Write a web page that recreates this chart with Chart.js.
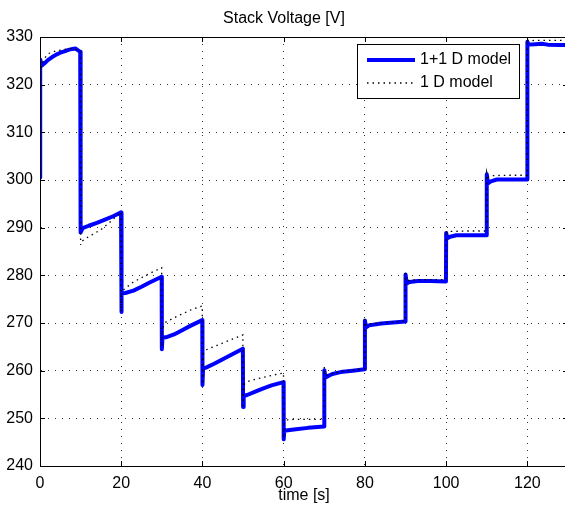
<!DOCTYPE html>
<html>
<head>
<meta charset="utf-8">
<script src="https://cdn.jsdelivr.net/npm/chart.js@4/dist/chart.umd.min.js"></script>
<style>
  html, body { margin: 0; padding: 0; background: #fff; overflow: hidden; }
  #wrap { width: 570px; height: 510px; }
</style>
</head>
<body>
<div id="wrap"><canvas id="voltChart" width="570" height="510"></canvas></div>
<script>
// ---- data ----
const xTicks = [0, 20, 40, 60, 80, 100, 120];
const yTicks = [240, 250, 260, 270, 280, 290, 300, 310, 320, 330];

// 1+1 D model (blue)
const tFull = [0, 0.05, 0.4, 1, 2, 3, 4, 5, 6, 7, 8, 8.7, 9.9,
  10, 10.5, 12, 14, 16, 18, 19.95,
  20, 20.15, 21, 23, 25, 27, 29.95,
  30, 30.15, 31, 33, 35, 37, 39.95,
  40, 40.15, 41, 43, 45, 47, 49.95,
  50, 50.15, 51, 53, 55, 57, 59.95,
  60, 60.15, 61, 63, 66, 69.95,
  70, 70.3, 71, 72, 74, 77, 79.95,
  80, 80.3, 81, 84, 87, 89.95,
  90, 90.3, 91, 93, 96, 99.95,
  100, 100.3, 101, 102.5, 106, 109.95,
  110, 110.3, 111, 112.5, 116, 119.95,
  120, 120.3, 122, 123.5, 125, 128, 130];
const vFull = [300.5, 325.3, 324.0, 324.4, 325.2, 325.8, 326.3, 326.7, 327.0, 327.3, 327.5, 327.6, 326.9,
  289.0, 289.9, 290.4, 291.0, 291.7, 292.4, 293.2,
  272.3, 276.2, 276.3, 276.8, 277.6, 278.5, 279.7,
  264.5, 266.9, 267.0, 267.6, 268.5, 269.4, 270.6,
  257.0, 260.4, 260.7, 261.5, 262.4, 263.3, 264.6,
  252.4, 254.7, 254.9, 255.6, 256.3, 256.9, 257.6,
  245.6, 247.4, 247.5, 247.7, 248.0, 248.3,
  260.1, 258.6, 258.9, 259.3, 259.7, 260.0, 260.3,
  270.5, 269.1, 269.5, 269.9, 270.1, 270.3,
  280.2, 278.3, 278.6, 278.8, 278.8, 278.7,
  288.9, 287.8, 288.1, 288.4, 288.4, 288.4,
  301.2, 299.3, 299.7, 300.1, 300.1, 300.1,
  329.0, 328.4, 328.5, 328.6, 328.4, 328.3, 328.3];

// 1 D model (black dotted)
const t1D = [0, 0.05, 0.3, 1, 2, 4, 6, 8, 9.95,
  10, 10.1, 11, 13, 15, 17, 19.95,
  20, 20.15, 21, 23, 25, 27, 29.95,
  30, 30.15, 31, 33, 35, 37, 39.95,
  40, 40.15, 41, 43, 45, 47, 49.95,
  50, 50.15, 51, 53, 55, 57, 59.95,
  60, 60.15, 61, 63, 66, 69.95,
  70, 70.3, 71, 74, 77, 79.95,
  80, 80.3, 81, 85, 89.95,
  90, 90.3, 91, 95, 99.95,
  100, 100.3, 101, 105, 109.95,
  110, 110.3, 111, 115, 119.95,
  120, 120.3, 122, 125, 128, 130];
const v1D = [300.5, 322.5, 323.8, 325.4, 326.5, 327.1, 327.4, 327.6, 327.0,
  286.4, 287.0, 287.6, 288.6, 289.6, 291.0, 293.3,
  272.4, 276.6, 277.3, 278.6, 279.5, 280.4, 281.6,
  265.0, 269.0, 270.2, 271.1, 271.9, 272.7, 273.6,
  257.2, 263.5, 264.4, 265.1, 265.8, 266.5, 267.5,
  252.6, 257.0, 257.7, 258.2, 258.6, 259.0, 259.5,
  245.8, 249.2, 249.7, 249.8, 249.8, 249.8,
  260.8, 259.0, 259.2, 259.8, 260.1, 260.4,
  270.8, 269.5, 269.8, 270.1, 270.4,
  280.5, 278.8, 279.0, 279.1, 279.1,
  289.4, 288.9, 289.2, 289.3, 289.3,
  301.6, 300.6, 300.9, 301.0, 301.0,
  329.5, 329.2, 329.3, 329.3, 329.3, 329.3];

const seriesNames = ['1+1 D model', '1 D model'];
const FONT = '"Liberation Sans", Arial, Helvetica, sans-serif';

Chart.defaults.font.family = FONT;
Chart.defaults.font.size = 16;
Chart.defaults.color = '#000';

function toXY(ts, vs){ return ts.map((t, i) => ({ x: t, y: vs[i] })); }

// box around the axes, inward ticks (matlab look) and the legend
const matlabFrame = {
  id: 'matlabFrame',
  afterDatasetsDraw(chart){
    const { ctx, chartArea: a, scales } = chart;
    ctx.save();
    ctx.strokeStyle = '#000';
    ctx.lineWidth = 1;
    ctx.strokeRect(a.left + 0.5, a.top + 0.5, a.right - a.left - 1, a.bottom - a.top);
    const tl = 5;
    ctx.beginPath();
    xTicks.forEach(v => {
      const px = Math.round(scales.x.getPixelForValue(v)) + 0.5;
      ctx.moveTo(px, a.bottom); ctx.lineTo(px, a.bottom - tl);
      ctx.moveTo(px, a.top); ctx.lineTo(px, a.top + tl);
    });
    yTicks.forEach(v => {
      const py = Math.round(scales.y.getPixelForValue(v)) + 0.5;
      ctx.moveTo(a.left, py); ctx.lineTo(a.left + tl, py);
      ctx.moveTo(a.right, py); ctx.lineTo(a.right - tl, py);
    });
    ctx.stroke();

    // legend box
    const lx = 357.5, ly = 44.5, lw = 162, lh = 54;
    ctx.fillStyle = '#fff';
    ctx.fillRect(lx, ly, lw, lh);
    ctx.strokeRect(lx, ly, lw, lh);
    const rows = [60, 83];
    chart.data.datasets.forEach((ds, i) => {
      ctx.save();
      ctx.strokeStyle = ds.borderColor;
      ctx.lineWidth = ds.borderWidth;
      ctx.setLineDash(ds.borderDash || []);
      ctx.beginPath();
      ctx.moveTo(367, rows[i]); ctx.lineTo(415, rows[i]);
      ctx.stroke();
      ctx.restore();
      ctx.fillStyle = '#000';
      ctx.font = '16px ' + FONT;
      ctx.textBaseline = 'middle';
      ctx.textAlign = 'left';
      ctx.fillText(ds.label, 420, rows[i]);
    });
    ctx.restore();
  }
};

const ctx = document.getElementById('voltChart').getContext('2d');
const voltChart = new Chart(ctx, {
  type: 'line',
  data: {
    datasets: [
      {
        label: seriesNames[0],
        data: toXY(tFull, vFull),
        borderColor: '#0000ff',
        borderWidth: 4,
        borderJoinStyle: 'round',
        borderCapStyle: 'round',
        pointRadius: 0,
        tension: 0,
        order: 2
      },
      {
        label: seriesNames[1],
        data: toXY(t1D, v1D),
        borderColor: '#000',
        borderWidth: 1.3,
        borderDash: [1.5, 4],
        pointRadius: 0,
        tension: 0,
        order: 1
      }
    ]
  },
  options: {
    responsive: false,
    animation: false,
    layout: { padding: { top: 0, right: 2, left: 0, bottom: 0 } },
    plugins: {
      legend: { display: false },
      tooltip: { enabled: false },
      title: {
        display: true,
        text: 'Stack Voltage [V]',
        font: { size: 16, weight: 'normal' },
        color: '#000',
        padding: { top: 8.5, bottom: 9.3 }
      }
    },
    scales: {
      x: {
        type: 'linear',
        min: 0, max: 130,
        afterBuildTicks: axis => { axis.ticks = xTicks.map(v => ({ value: v })); },
        afterFit: scale => { scale.height = 44; },
        ticks: { padding: 8, maxRotation: 0, includeBounds: false },
        grid: { color: '#333', drawTicks: false, lineWidth: 1 },
        border: { display: true, color: '#000', width: 1, dash: [1, 6] },
        title: { display: true, text: 'time [s]', padding: { top: 0, bottom: 5 } }
      },
      y: {
        type: 'linear',
        min: 240, max: 330,
        afterBuildTicks: axis => { axis.ticks = yTicks.map(v => ({ value: v })); },
        afterFit: scale => { scale.width = 40; },
        ticks: { padding: 7 },
        grid: { color: '#333', drawTicks: false, lineWidth: 1 },
        border: { display: true, color: '#000', width: 1, dash: [1, 6] }
      }
    }
  },
  plugins: [matlabFrame]
});
</script>
</body>
</html>
